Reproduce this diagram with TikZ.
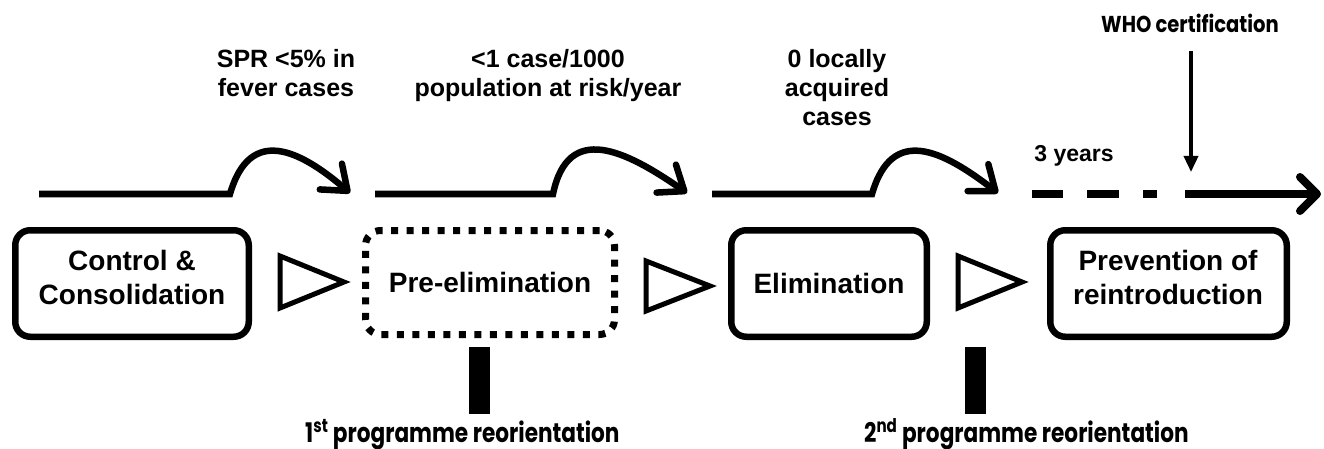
\documentclass[tikz,border=0pt]{standalone}
\usepackage{fontspec}
\setmainfont{Liberation Sans}
\newfontfamily\condfont[FakeStretch=0.8]{Poppins}
\newfontfamily\condwide[FakeStretch=0.85]{Poppins}
\usetikzlibrary{arrows.meta}
\begin{document}
\begin{tikzpicture}[x=1pt,y=-1pt,
  stagebox/.style={draw=black, line width=6.5pt, rounded corners=15pt, inner sep=0pt},
  dotbox/.style={draw=black, line width=7pt, rounded corners=15pt, dash pattern=on 7pt off 8.5pt, inner sep=0pt},
  stagetext/.style={font=\bfseries\fontsize{28}{34}\selectfont, align=center, inner sep=0pt},
  crit/.style={font=\bfseries\fontsize{25}{29}\selectfont, align=center, inner sep=0pt},
  cond/.style={font=\condfont\bfseries\fontsize{27}{30}\selectfont, inner sep=0pt},
  tline/.style={line width=6.5pt, line cap=butt, -{Straight Barb[length=22pt,width=34pt,round]}},
  tri/.style={line width=5pt, line join=miter},
  bar/.style={fill=black, inner sep=0pt, minimum width=21pt, minimum height=67pt},
]
\useasboundingbox (0,0) rectangle (1324,449);

% stage boxes
\node[stagebox, minimum width=233.5pt, minimum height=106.5pt] (ctrl) at (132,283.5) {};
\node[dotbox, minimum width=249pt, minimum height=104pt] (pre) at (490,282.5) {};
\node[stagebox, minimum width=195.5pt, minimum height=106.5pt] (elim) at (829,283.5) {};
\node[stagebox, minimum width=236.5pt, minimum height=106.5pt] (prev) at (1168.5,283.5) {};

\node[stagetext] (ctrl-t) at (132,277) {Control \&\\Consolidation};
\node[stagetext, anchor=base] (pre-t) at (490,292) {Pre-elimination};
\node[stagetext, anchor=base] (elim-t) at (829,293) {Elimination};
\node[stagetext] (prev-t) at (1168,277) {Prevention of\\reintroduction};

% open triangles
\draw[tri] (280,256) -- (344,282) -- (280,308) -- cycle;
\draw[tri] (646,261) -- (710,286) -- (646,311) -- cycle;
\draw[tri] (958,256) -- (1022,282) -- (958,308) -- cycle;

% criteria
\node[crit] (k1) at (286,73) {SPR <5\% in\\fever cases};
\node[crit] (k2) at (548,76) {<1 case/1000\\population at risk/year};
\node[crit] (k3) at (837,88) {0 locally\\acquired\\cases};

% timeline
\coordinate (s1) at (39,194);  \coordinate (h1) at (230,194); \coordinate (e1) at (350,193);
\coordinate (s2) at (375,194); \coordinate (h2) at (553,194); \coordinate (e2) at (687,193);
\coordinate (s3) at (712,194); \coordinate (h3) at (872,194); \coordinate (e3) at (998,193);
\draw[tline] (s1) -- (h1) .. controls (250,125) and (300,150) .. (e1);
\draw[tline] (s2) -- (h2) .. controls (568,122) and (625,150) .. (e2);
\draw[tline] (s3) -- (h3) .. controls (892,125) and (942,150) .. (e3);

\coordinate (s4) at (1032,194); \coordinate (d4) at (1185,194); \coordinate (e4) at (1321,194);
\draw[line width=8pt, dash pattern=on 31pt off 24pt on 32pt off 24pt on 14pt off 100pt] (s4) -- (d4);
\draw[line width=8pt, -{Straight Barb[length=17pt,width=34pt,round]}] (d4) -- (e4);

\node[crit, font=\bfseries\fontsize{23}{28}\selectfont, anchor=base] (yrs) at (1074,162) {3 years};

% WHO certification
\node[cond, font=\condwide\bfseries\fontsize{23}{27}\selectfont, anchor=base] (who) at (1190,33) {WHO certification};
\coordinate (whoend) at (1191,172);
\draw[line width=3.5pt, shorten <=18pt, -{Triangle[length=16pt,width=14pt]}] (who.south -| whoend) -- (whoend);

% reorientation bars
\node[bar] (bar1) at (479.5,380.5) {};
\node[bar] (bar2) at (975,380.5) {};
\node[cond, anchor=base west] (r1) at (305,442) {1\textsuperscript{st} programme reorientation};
\node[cond, anchor=base west] (r2) at (864,442) {2\textsuperscript{nd} programme reorientation};
\end{tikzpicture}
\end{document}
